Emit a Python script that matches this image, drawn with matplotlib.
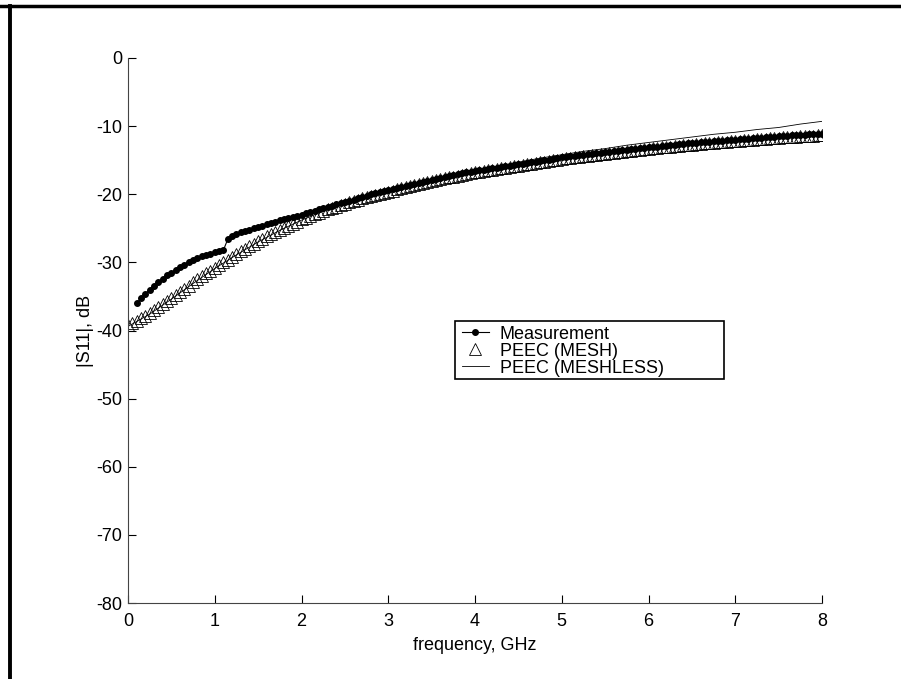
import numpy as np
import matplotlib
matplotlib.use("Agg")
import matplotlib.pyplot as plt
from matplotlib.lines import Line2D
from matplotlib.patches import Rectangle

plt.rcParams['font.family'] = ['Liberation Sans', 'DejaVu Sans']
plt.rcParams['axes.unicode_minus'] = False

# measured |S11| (dB), 0.10 .. 8.00 GHz, 0.05 GHz step
freq_meas = np.round(np.arange(0.1, 8.001, 0.05), 2)
s11_meas = [
    -36.0, -35.3, -34.6, -34.0, -33.4, -32.9, -32.4, -31.9, -31.5, -31.1,
    -30.7, -30.35, -30.0, -29.7, -29.4, -29.1, -28.9, -28.7,
    -28.5, -28.35, -28.2, -26.6, -26.1, -25.8, -25.6, -25.4, -25.2, -25.0,
    -24.8, -24.6, -24.4, -24.2, -24.0, -23.8, -23.6, -23.45, -23.3, -23.15,
    -23.0, -22.8, -22.6, -22.4, -22.2, -22.0, -21.85, -21.7, -21.5, -21.35,
    -21.2, -21.0, -20.8, -20.6, -20.4, -20.2, -20.0, -19.85, -19.7, -19.55,
    -19.4, -19.25, -19.1, -18.95, -18.8, -18.65, -18.5, -18.35, -18.2, -18.05,
    -17.9, -17.75, -17.6, -17.45, -17.3, -17.2, -17.1, -16.95, -16.8, -16.7,
    -16.6, -16.5, -16.4, -16.3, -16.2, -16.1, -16.0, -15.9, -15.8, -15.7,
    -15.6, -15.5, -15.4, -15.3, -15.2, -15.1, -15.0, -14.9, -14.8, -14.7,
    -14.6, -14.52, -14.45, -14.37, -14.3, -14.22, -14.15, -14.07, -14.0, -13.92,
    -13.85, -13.77, -13.7, -13.62, -13.55, -13.47, -13.4, -13.32, -13.25, -13.17,
    -13.1, -13.05, -13.0, -12.92, -12.85, -12.8, -12.75, -12.67, -12.6, -12.55,
    -12.5, -12.45, -12.4, -12.35, -12.3, -12.25, -12.2, -12.15, -12.1, -12.05,
    -12.0, -11.95, -11.9, -11.85, -11.8, -11.75, -11.7, -11.65, -11.6, -11.55,
    -11.5, -11.45, -11.4, -11.37, -11.35, -11.3, -11.25, -11.22, -11.2, -11.15,
    -11.1,
]

# PEEC with mesh, 0 .. 8 GHz, 0.05 GHz step
freq_mesh = np.round(np.arange(0.0, 8.001, 0.05), 2)
s11_mesh = [
    -39.2, -38.9, -38.6, -38.2, -37.8, -37.4, -37.0, -36.55, -36.1, -35.65,
    -35.2, -34.75, -34.3, -33.85, -33.4, -32.95, -32.5, -32.05, -31.6, -31.2,
    -30.8, -30.4, -30.0, -29.6, -29.2, -28.8, -28.4, -28.0, -27.6, -27.25,
    -26.9, -26.55, -26.2, -25.85, -25.5, -25.2, -24.9, -24.6, -24.3, -24.0,
    -23.7, -23.45, -23.2, -22.95, -22.7, -22.45, -22.2, -22.0, -21.8, -21.6,
    -21.4, -21.2, -21.0, -20.8, -20.6, -20.4, -20.2, -20.05, -19.9, -19.75,
    -19.6, -19.45, -19.3, -19.15, -19.0, -18.85, -18.7, -18.55, -18.4, -18.25,
    -18.1, -17.95, -17.8, -17.65, -17.5, -17.4, -17.3, -17.15, -17.0, -16.9,
    -16.8, -16.7, -16.6, -16.5, -16.4, -16.3, -16.2, -16.1, -16.0, -15.9,
    -15.8, -15.7, -15.6, -15.5, -15.4, -15.3, -15.2, -15.1, -15.0, -14.9,
    -14.8, -14.72, -14.65, -14.57, -14.5, -14.42, -14.35, -14.27, -14.2, -14.12,
    -14.05, -13.97, -13.9, -13.82, -13.75, -13.67, -13.6, -13.52, -13.45, -13.37,
    -13.3, -13.25, -13.2, -13.12, -13.05, -13.0, -12.95, -12.87, -12.8, -12.75,
    -12.7, -12.65, -12.6, -12.55, -12.5, -12.45, -12.4, -12.35, -12.3, -12.25,
    -12.2, -12.15, -12.1, -12.05, -12.0, -11.95, -11.9, -11.85, -11.8, -11.75,
    -11.7, -11.65, -11.6, -11.57, -11.55, -11.5, -11.45, -11.42, -11.4, -11.35,
    -11.3,
]

# PEEC meshless, 0 .. 8 GHz, 0.25 GHz step
freq_meshless = np.round(np.arange(0.0, 8.001, 0.25), 2)
s11_meshless = [
    -39.4, -37.6, -35.4, -33.1, -30.9, -28.9, -27.0, -25.3, -23.8, -22.5,
    -21.4, -20.4, -19.5, -18.7, -17.9, -17.2, -16.5, -15.9, -15.3, -14.7,
    -14.2, -13.7, -13.3, -12.8, -12.4, -12.0, -11.6, -11.2, -10.9, -10.5,
    -10.2, -9.7, -9.3,
]

fig = plt.figure(figsize=(9.01, 6.79), dpi=100)
ax = fig.add_axes([128 / 901, 1 - 603 / 679, 694 / 901, 545 / 679])

ax.plot(freq_meas, s11_meas, '-', color='black', lw=0.8,
        marker='o', ms=4, label='Measurement')
ax.plot(freq_mesh, s11_mesh, linestyle='none', marker='^', ms=9,
        mfc='none', mec='black', mew=0.6, label='PEEC (MESH)')
ax.plot(freq_meshless, s11_meshless, '-', color='black', lw=0.6,
        label='PEEC (MESHLESS)')

ax.set_xlim(0, 8)
ax.set_ylim(-80, 0)
ax.set_xticks(range(0, 9))
ax.set_yticks(range(-80, 1, 10))
ax.tick_params(direction='in', length=6, width=0.8, labelsize=13, colors='black')
ax.tick_params(axis='x', pad=7)
ax.tick_params(axis='y', pad=4)
ax.spines['top'].set_visible(False)
ax.spines['right'].set_visible(False)
ax.spines['left'].set_color('#444444')
ax.spines['bottom'].set_color('#444444')
ax.set_xlabel('frequency, GHz', fontsize=13, labelpad=5)
ax.set_ylabel('|S11|, dB', fontsize=13, labelpad=2)

# legend text without its own frame; the box is drawn wider, like the original
leg = ax.legend(loc='upper left', bbox_to_anchor=(0.4755, 0.5156), fontsize=13,
                frameon=False, handlelength=1.5, handletextpad=0.6,
                borderpad=0.2, labelspacing=0.0, borderaxespad=0)
box = Rectangle((0.4712, 0.411), 0.3876, 0.1064, transform=ax.transAxes,
                facecolor='white', edgecolor='black', lw=1.2, zorder=4.9)
ax.add_patch(box)
leg.set_zorder(5)

# outer frame (top and left only)
fig.add_artist(Line2D([0, 1], [1 - 5.5 / 679, 1 - 5.5 / 679],
                      transform=fig.transFigure, color='black', lw=2.5))
fig.add_artist(Line2D([10 / 901, 10 / 901], [0, 1 - 5.5 / 679],
                      transform=fig.transFigure, color='black', lw=2.8))

fig.savefig('out.png', dpi=100)
